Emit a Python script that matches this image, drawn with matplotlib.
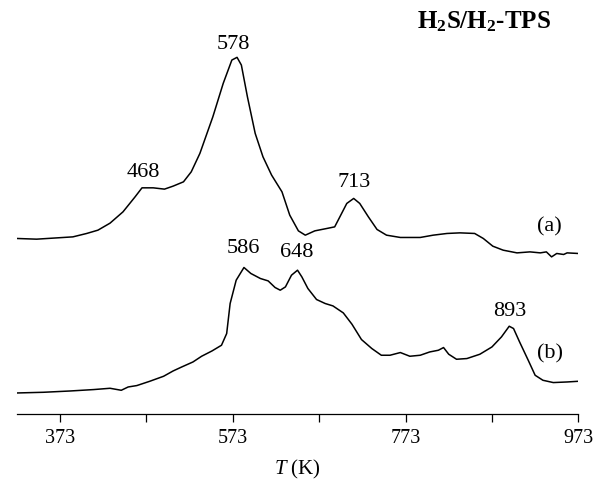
import matplotlib
matplotlib.use("Agg")
import matplotlib.pyplot as plt
from matplotlib.ticker import FixedLocator

plt.rcParams['font.family'] = ['Liberation Serif', 'DejaVu Serif']
plt.rcParams['mathtext.fontset'] = 'custom'
plt.rcParams['mathtext.rm'] = 'Liberation Serif'
plt.rcParams['mathtext.it'] = 'Liberation Serif:italic'
plt.rcParams['mathtext.bf'] = 'Liberation Serif:bold'

# TPS profiles, temperature (K) vs. signal (a.u., offset traces)
temp_a = [323, 346, 388, 404, 417, 431, 446, 460, 468, 481, 494, 504, 516, 525,
          535, 550, 562, 572, 578, 583, 590, 599, 608, 618, 630, 639, 649,
          657, 668, 682, 691, 697, 705, 713, 720, 730, 740, 751, 767, 790, 805,
          821, 836, 853, 863, 874, 886, 902, 917, 929, 936, 942, 948, 956, 960,
          973]
sig_a = [175.7, 175, 177.3, 180.7, 184, 191, 202.3, 217.3, 226.3, 226.3, 225,
         228, 232.3, 242.3, 260.7, 297.3, 330.7, 354, 356.7, 349, 317.3,
         280.7, 257.3, 239, 222.3, 199, 183.3, 179, 183.3, 185.7, 187.3, 197.3,
         210.7, 215.7, 210.7, 197.3, 184.7, 179, 176.7, 176.7, 179, 180.7,
         181.3, 180.7, 175.7, 168, 164, 161.3, 162.3, 161.3, 162.3, 157.3,
         160.7, 159.7, 161.3, 160.7]

temp_b = [323, 354, 385, 412, 431, 444, 452, 462, 477, 493, 504, 514, 527, 537,
          549, 560, 566, 570, 577, 586, 594, 605, 614, 622, 628, 634, 641, 648,
          653, 660, 670, 680, 689, 701, 711, 722, 734, 745, 755, 767, 778, 790,
          801, 811, 817, 823, 832, 844, 859, 873, 884, 893, 898, 905, 915, 923,
          932, 944, 960, 973]
sig_b = [21.3, 22, 23.3, 24.7, 26, 24, 27.3, 28.7, 33, 38, 43.3, 47.3, 52.3, 58,
         63.3, 69, 80.7, 110.7, 134, 146.7, 140.7, 135.7, 133.3, 126.7, 124,
         127.3, 139, 144, 137.3, 125.7, 114.7, 110.7, 108.3, 101.3, 90, 74.7,
         65.7, 59, 59, 61.7, 58, 59, 62.3, 64, 66.7, 60, 55, 55.7, 60, 67.3,
         77.3, 88, 85.7, 72.3, 54, 39, 34, 31.7, 32.3, 33]

# peak annotations: (text, T, signal)
peak_labels = ["468", "578", "713", "586", "648", "893"]
peak_x = [469, 574, 714, 585, 647, 894]
peak_y = [242, 370, 232, 166, 162, 103]

major_ticks = [373, 573, 773, 973]
minor_ticks = [473, 673, 873]

fig = plt.figure(figsize=(6.10, 4.87), dpi=100)
ax = fig.add_axes([0.0274, 0.1493, 0.9207, 0.8507])

ax.plot(temp_a, sig_a, color='black', lw=1.1)
ax.plot(temp_b, sig_b, color='black', lw=1.1)

for txt, x, y in zip(peak_labels, peak_x, peak_y):
    ax.text(x, y, txt, ha='center', va='center', fontsize=16)

ax.text(940, 187, '(a)', ha='center', va='center', fontsize=16)
ax.text(940, 60, '(b)', ha='center', va='center', fontsize=16)
ax.text(973 - 1.1575 * 27, 392, r'H$_{\mathbf{2}}$S/H$_{\mathbf{2}}$-TPS',
        ha='right', va='center', fontsize=18, fontweight='bold')

ax.set_xlim(323, 973)
ax.set_ylim(0, 414)

for s in ['left', 'right', 'top']:
    ax.spines[s].set_visible(False)
ax.spines['bottom'].set_linewidth(0.9)
ax.set_yticks([])

ax.xaxis.set_major_locator(FixedLocator(major_ticks))
ax.xaxis.set_minor_locator(FixedLocator(minor_ticks))
ax.tick_params(axis='x', which='both', direction='out', length=5.5, width=0.9,
               labelsize=14.5, pad=5)
ax.set_xlabel(r'$T$ (K)', fontsize=15, labelpad=7)

fig.savefig('out.png', dpi=100)
